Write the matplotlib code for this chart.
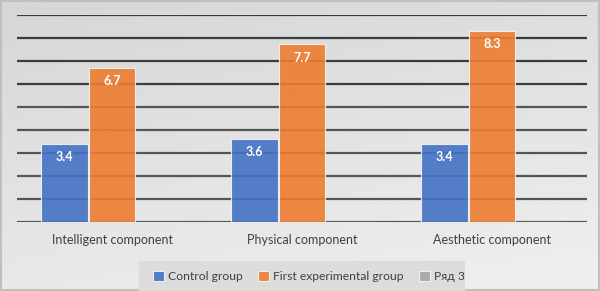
import numpy as np
import matplotlib
matplotlib.use("Agg")
import matplotlib.pyplot as plt
import matplotlib.patches as patches

# chart data
categories = ["Intelligent component", "Physical component", "Aesthetic component"]
series_names = ["Control group", "First experimental group", "Ряд 3"]
control = [3.4, 3.6, 3.4]
experimental = [6.7, 7.7, 8.3]
row3 = [0, 0, 0]

colors = ["#4472C4", "#ED7D31", "#A5A5A5"]

plt.rcParams['font.family'] = ['Lato', 'DejaVu Sans']

fig = plt.figure(figsize=(6, 2.91), dpi=100)

# background gradient (light top right, darker bottom left)
bg = fig.add_axes([0, 0, 1, 1], zorder=0)
yy, xx = np.mgrid[0:1:200j, 0:1:400j]
shade = 0.84 + 0.09 * (1 - yy) * 0.8 + 0.03 * xx
bg.imshow(np.dstack([shade] * 3), extent=[0, 1, 0, 1], aspect='auto', origin='lower')
bg.add_patch(patches.Rectangle((0.002, 0.003), 0.996, 0.994, fill=False,
                               edgecolor="#bfbfbf", linewidth=1.5))
# legend box
bg.add_patch(patches.Rectangle((139 / 600, 0), 326 / 600, 30 / 291,
                               facecolor="#dcdcdc", edgecolor="none"))
bg.set_xlim(0, 1)
bg.set_ylim(0, 1)
bg.axis('off')

ax = fig.add_axes([17 / 600, 69 / 291, 570 / 600, 207.5 / 291], zorder=1)
ax.patch.set_alpha(0)

x = np.arange(len(categories))
w = 0.247
all_series = [control, experimental, row3]
for i, (vals, name, col) in enumerate(zip(all_series, series_names, colors)):
    bars = ax.bar(x + (i - 1) * 0.25, vals, w, color=col, alpha=0.9,
                  edgecolor="#f4f4f4", linewidth=0.8, label=name, zorder=3)
    if i < 2:
        for b, v in zip(bars, vals):
            ax.annotate(f"{v}", (b.get_x() + b.get_width() / 2, v),
                        xytext=(0, -9.5), textcoords="offset points",
                        ha='center', va='center', color='white',
                        fontsize=9, fontweight='bold', zorder=4)

for yv in range(0, 10):
    ax.axhline(yv, color="#3c3c3c" if yv > 5 else "#555555", linewidth=1.6, zorder=1)

ax.set_xlim(-0.5, 2.5)
ax.set_ylim(0, 9)
ax.set_yticks([])
ax.set_xticks(x)
ax.set_xticklabels(categories, fontsize=9, color="#404040")
ax.tick_params(axis='x', length=0, pad=9)
for s in ax.spines.values():
    s.set_visible(False)

leg = ax.legend(loc='center', bbox_to_anchor=(0.5 + 7 / 570, -0.262), ncol=3,
                frameon=False, fontsize=8.7, handlelength=0.9, handleheight=0.9,
                handletextpad=0.3, columnspacing=1.3, borderaxespad=0)
for t in leg.get_texts():
    t.set_color("#404040")

fig.savefig("out.png", dpi=100)
